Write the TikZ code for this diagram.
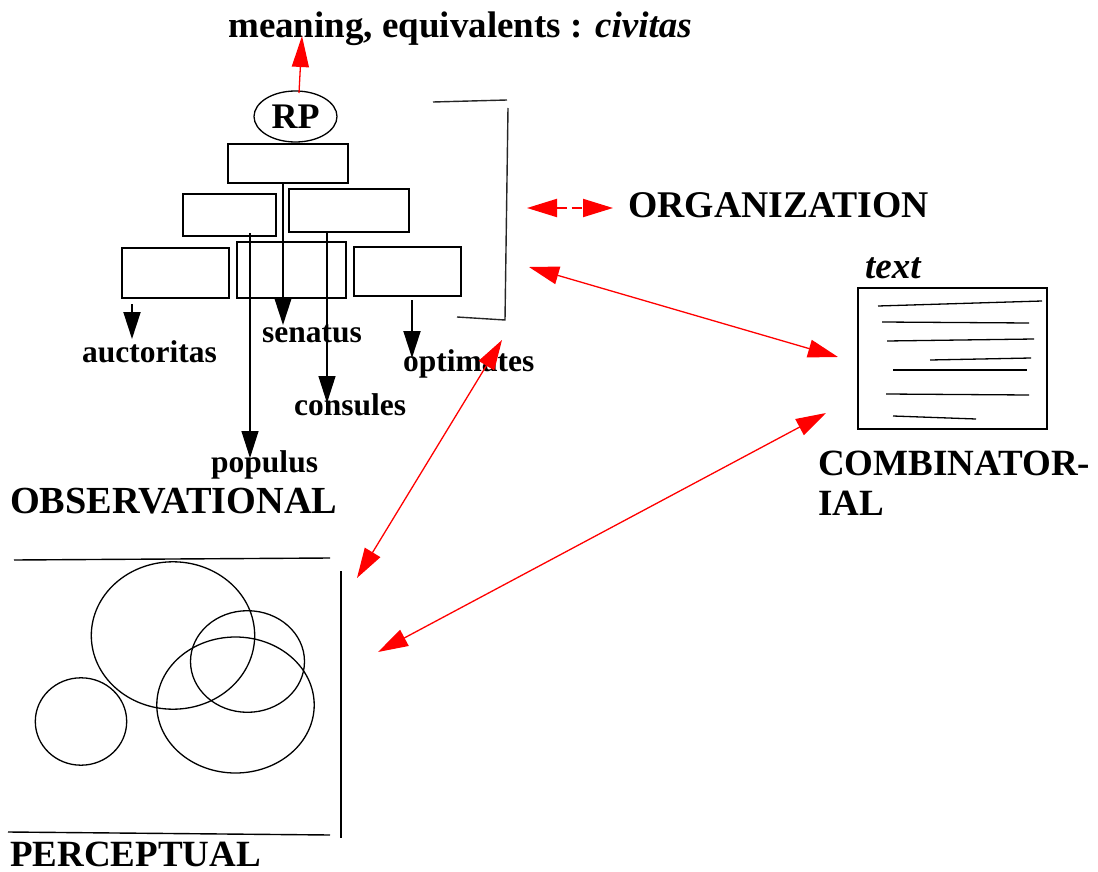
\documentclass[tikz,border=0pt]{standalone}
\usepackage{fontspec}
\setmainfont{Liberation Serif}
\usetikzlibrary{arrows.meta,shapes.geometric}

\begin{document}
\begin{tikzpicture}[x=1pt,y=-1pt,
  box/.style={draw,line width=2pt,inner sep=0pt},
  big/.style={font=\fontsize{37}{40}\selectfont\bfseries,inner sep=0pt,anchor=base west},
  small/.style={font=\fontsize{31.5}{34}\selectfont\bfseries,inner sep=0pt,anchor=base west},
  darrow/.style={-{Triangle[length=27pt,width=17pt]}},
  redlink/.style={red,line width=1.3pt,{Triangle[length=30pt,width=18pt]}-{Triangle[length=30pt,width=18pt]}},
  thinline/.style={line width=1.3pt},
]
\useasboundingbox (0,0) rectangle (1098,872);

% --- heading and the RP node -------------------------------------------
\node[big] (title) at (228,38) {meaning, equivalents : \textit{civitas}};
\node[draw,ellipse,line width=1.3pt,minimum width=83pt,minimum height=51pt,inner sep=0pt,
      font=\fontsize{36}{38}\selectfont\bfseries] (rp) at (295.5,116.5) {RP};
\coordinate (rpTop) at (299,93);
\coordinate (titleFoot) at (302,36);
\draw[red,line width=1.3pt,-{Triangle[length=31pt,width=17pt]}] (rpTop) -- (titleFoot);

% --- tree of boxes --------------------------------------------------------
\node[box,minimum width=120pt,minimum height=39pt] (bA) at (288,163.5) {};
\node[box,minimum width=93pt,minimum height=42pt]  (bB) at (229.5,215) {};
\node[box,minimum width=120pt,minimum height=43pt] (bC) at (349,210.5) {};
\node[box,minimum width=107pt,minimum height=50pt] (bD) at (175.5,273) {};
\node[box,minimum width=109pt,minimum height=56pt] (bE) at (291.5,270) {};
\node[box,minimum width=107pt,minimum height=49pt] (bF) at (407.5,271.5) {};

% labels of the tree
\node[small] (auct) at (82,362)  {auctoritas};
\node[small] (sen)  at (262,342) {senatus};
\node[small] (opt)  at (403,371) {optimates};
\node[small] (cons) at (294,415) {consules};
\node[small] (pop)  at (211,472) {populus};

% arrows from the boxes to the labels
\coordinate (senFrom) at (283,183);  \coordinate (senTo) at (283,325);
\coordinate (auFrom)  at (132,304);  \coordinate (auTo)  at (132,339);
\coordinate (opFrom)  at (412,300);  \coordinate (opTo)  at (412,358);
\coordinate (poFrom)  at (250,233);  \coordinate (poTo)  at (250,458);
\coordinate (coFrom)  at (327,233);  \coordinate (coTo)  at (327,403);
\draw[darrow,line width=2pt] (senFrom) -- (senTo);
\draw[darrow,line width=2pt] (auFrom) -- (auTo);
\draw[darrow,line width=2pt] (opFrom) -- (opTo);
\draw[darrow,thinline] (poFrom) -- (poTo);
\draw[darrow,thinline] (coFrom) -- (coTo);

% bracket closing the organization block
\draw[line width=1.4pt,black!85] (433,102) -- (507,100);
\draw[line width=1.4pt,black!85] (508,108) -- (505,320) -- (457,317);

% --- ORGANIZATION -----------------------------------------------------------
\coordinate (orgL) at (527,208);
\coordinate (orgR) at (613,208);
\draw[red,line width=2pt,dash pattern=on 10pt off 5pt,{Triangle[length=30pt,width=18pt]}-{Triangle[length=30pt,width=18pt]}] (orgL) -- (orgR);
\node[big,font=\fontsize{37.7}{40}\selectfont\bfseries] (org) at (628,217) {ORGANIZATION};

% --- text block (COMBINATORIAL) ------------------------------------------
\node[font=\fontsize{37}{40}\selectfont\bfseries\itshape,inner sep=0pt,anchor=base west] (txtlab) at (865,278) {text};
\node[draw,line width=2pt,minimum width=189pt,minimum height=141pt,inner sep=0pt] (txt) at (952.5,358.5) {};
\draw[thinline] (878,306) -- (1042,301);
\draw[thinline] (882,322) -- (1029,323);
\draw[thinline] (887,341) -- (1034,339);
\draw[thinline] (930,360) -- (1031,358);
\draw[line width=2pt] (893,370) -- (1027,370);
\draw[thinline] (886,394) -- (1029,395);
\draw[thinline] (893,416) -- (976,419);
\node[big] (comb1) at (818,475) {COMBINATOR-};
\node[big] (comb2) at (818,515) {IAL};

% --- OBSERVATIONAL / PERCEPTUAL -----------------------------------------
\node[big,font=\fontsize{38.3}{40}\selectfont\bfseries] (obs) at (10,513) {OBSERVATIONAL};
\draw[line width=1.4pt] (14,560) -- (330,558);
\draw[line width=1.4pt] (8,832) -- (330,835);
\draw[line width=2.5pt] (341,571) -- (341,838);
\draw[thinline] (173,635.5) ellipse [x radius=81.7pt, y radius=73.7pt];
\draw[thinline] (247.5,661.5) ellipse [x radius=57pt, y radius=50.8pt];
\draw[thinline] (235.5,705) ellipse [x radius=78.7pt, y radius=68pt];
\draw[thinline] (81,721.5) ellipse [x radius=45.7pt, y radius=43.7pt];
\node[big] (perc) at (10,866) {PERCEPTUAL};

% --- red links between the three fields ----------------------------------
\coordinate (orgSide)  at (529,267);
\coordinate (txtIn)    at (838,357);
\coordinate (txtOut)   at (826,413);
\coordinate (percIn)   at (378,652);
\coordinate (orgFoot)  at (502,340);
\coordinate (percTop)  at (357,578);
\draw[redlink] (orgSide) -- (txtIn);
\draw[redlink] (txtOut) -- (percIn);
\draw[redlink] (orgFoot) -- (percTop);
\end{tikzpicture}
\end{document}
